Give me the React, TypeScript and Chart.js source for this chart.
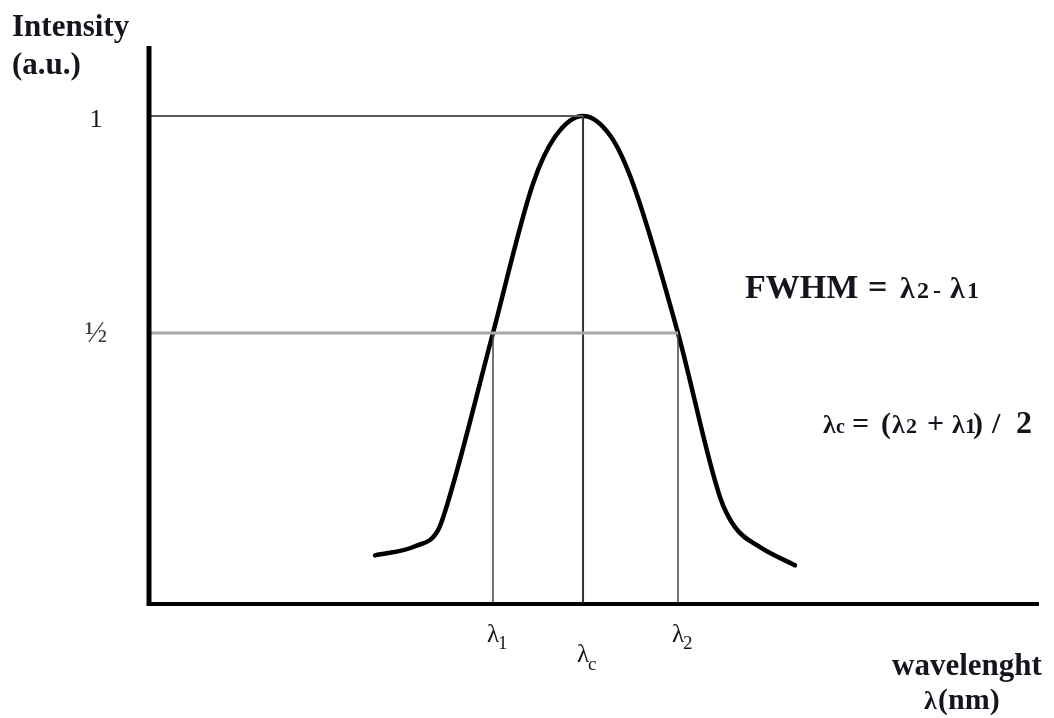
import React, { useEffect, useRef } from "react";
import { Chart, registerables } from "chart.js";

Chart.register(...registerables);

// Axis ranges (arbitrary wavelength units, normalised intensity)
const X_MIN = 0;
const X_MAX = 100;
const Y_MIN = -0.124;
const Y_MAX = 1.161;

// Spectral line profile
const curveX = [
  25.31, 29.81, 32.4, 33.75, 38.58, 43.08, 45.56, 48.71, 51.86, 54.33, 59.39, 64.12, 65.8,
  68.62, 72.55,
];
const curveY = [
  -0.012, 0.009, 0.046, 0.127, 0.5, 0.844, 0.952, 1.0, 0.952, 0.844, 0.5, 0.122, 0.053, 0.007,
  -0.035,
];

// Characteristic wavelengths and levels
const LAMBDA_1 = 38.58;
const LAMBDA_C = 48.71;
const LAMBDA_2 = 59.39;
const PEAK = 1;
const HALF = 0.5;

const yTickValues = [PEAK, HALF];
const yTickLabels = ["1", "½"];
const xTickValues = [LAMBDA_1, LAMBDA_C, LAMBDA_2];
const xTickSubscripts = ["1", "c", "2"];

const SERIF = "'Liberation Serif', 'Times New Roman', serif";
const INK = "#15151f";

// A token of text: offset from the start of its line, font size, text
type Token = [number, number, string];

function drawTokens(
  ctx: CanvasRenderingContext2D,
  tokens: Token[],
  x: number,
  baseline: number,
  bold = true,
) {
  ctx.textAlign = "left";
  ctx.textBaseline = "alphabetic";
  for (const [dx, size, text] of tokens) {
    ctx.font = `${bold ? "bold " : ""}${size}px ${SERIF}`;
    ctx.fillText(text, x + dx, baseline);
  }
}

const annotations = {
  id: "annotations",
  afterDraw(chart: any) {
    const { ctx, chartArea: a, scales } = chart;
    const xs = scales.x;
    const ys = scales.y;
    ctx.save();

    // axes
    ctx.strokeStyle = "#000";
    ctx.lineCap = "butt";
    ctx.lineWidth = 5;
    ctx.beginPath();
    ctx.moveTo(a.left - 1, a.top);
    ctx.lineTo(a.left - 1, a.bottom + 2);
    ctx.stroke();
    ctx.lineWidth = 4;
    ctx.beginPath();
    ctx.moveTo(a.left - 3, a.bottom);
    ctx.lineTo(a.right, a.bottom);
    ctx.stroke();

    ctx.fillStyle = INK;

    // y tick labels
    ctx.textAlign = "center";
    ctx.textBaseline = "alphabetic";
    yTickValues.forEach((v, i) => {
      ctx.font = `${i === 0 ? 26 : 30}px ${SERIF}`;
      ctx.fillStyle = i === 0 ? INK : "#3a3a48";
      ctx.fillText(yTickLabels[i], a.left - 54, ys.getPixelForValue(v) + (i === 0 ? 11 : 9));
    });
    ctx.fillStyle = INK;

    // x tick labels with subscripts
    xTickValues.forEach((v, i) => {
      const px = xs.getPixelForValue(v);
      const base = a.bottom + (i === 1 ? 58 : 38);
      ctx.font = `25px ${SERIF}`;
      const w = ctx.measureText("λ").width;
      ctx.textAlign = "left";
      ctx.fillText("λ", px - w / 2, base);
      ctx.font = `19px ${SERIF}`;
      ctx.fillText(xTickSubscripts[i], px + w / 2 - 1, base + (i === 1 ? 8 : 7));
    });

    // axis titles
    drawTokens(ctx, [[0, 31, "Intensity"]], 12, 36);
    drawTokens(ctx, [[0, 31, "(a.u.)"]], 12, 74);
    drawTokens(ctx, [[0, 31, "wavelenght"]], 892, 675);
    drawTokens(ctx, [[0, 26, "λ"], [14, 30, "(nm)"]], 924, 709);

    // formulas
    drawTokens(
      ctx,
      [
        [0, 34, "FWHM"],
        [123, 34, "="],
        [155, 30, "λ"],
        [172, 24, "2"],
        [188, 24, "-"],
        [205, 30, "λ"],
        [222, 24, "1"],
      ],
      745,
      298,
    );
    drawTokens(
      ctx,
      [
        [0, 26, "λ"],
        [13, 20, "c"],
        [29, 30, "="],
        [58, 30, "("],
        [69, 26, "λ"],
        [83, 22, "2"],
        [104, 30, "+"],
        [129, 26, "λ"],
        [142, 22, "1"],
        [150, 30, ")"],
        [169, 30, "/"],
        [193, 32, "2"],
      ],
      823,
      433,
    );

    ctx.restore();
  },
};

export default function App() {
  const ref = useRef<HTMLCanvasElement | null>(null);

  useEffect(() => {
    if (!ref.current) return;
    const guide = (pts: { x: number; y: number }[], color: string, width: number) => ({
      data: pts,
      borderColor: color,
      borderWidth: width,
      pointRadius: 0,
      tension: 0,
      fill: false,
    });
    const yBottom = Y_MIN;
    const chart = new Chart(ref.current, {
      type: "line",
      data: {
        datasets: [
          guide([{ x: X_MIN, y: HALF }, { x: LAMBDA_2, y: HALF }], "#a8a8a8", 3),
          guide([{ x: X_MIN, y: PEAK }, { x: LAMBDA_C, y: PEAK }], "#5a5a5a", 2),
          guide([{ x: LAMBDA_C, y: PEAK }, { x: LAMBDA_C, y: yBottom }], "#333", 2),
          guide([{ x: LAMBDA_1, y: HALF }, { x: LAMBDA_1, y: yBottom }], "#444", 1.5),
          guide([{ x: LAMBDA_2, y: HALF }, { x: LAMBDA_2, y: yBottom }], "#444", 1.5),
          {
            data: curveX.map((x, i) => ({ x, y: curveY[i] })),
            borderColor: "#000",
            borderWidth: 4.5,
            pointRadius: 0,
            cubicInterpolationMode: "monotone",
            borderCapStyle: "round",
            borderJoinStyle: "round",
            fill: false,
          },
        ],
      },
      options: {
        animation: false,
        responsive: false,
        devicePixelRatio: 1,
        layout: { padding: { left: 150, right: 15, top: 46, bottom: 114 } },
        plugins: { legend: { display: false }, tooltip: { enabled: false } },
        scales: {
          x: { type: "linear", min: X_MIN, max: X_MAX, display: false },
          y: { type: "linear", min: Y_MIN, max: Y_MAX, display: false },
        },
      },
      plugins: [annotations],
    } as any);
    return () => chart.destroy();
  }, []);

  return (
    <div style={{ position: "fixed", left: 0, top: 0, width: 1054, height: 718, background: "#fff" }}>
      <canvas ref={ref} width={1054} height={718} style={{ display: "block" }} />
    </div>
  );
}
